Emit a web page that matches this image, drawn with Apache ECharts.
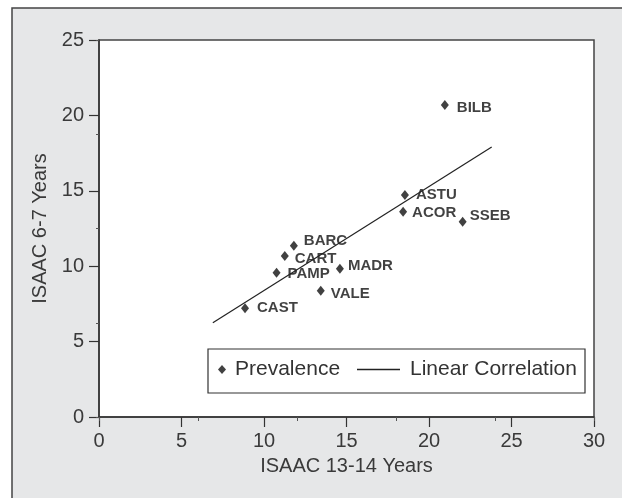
<!DOCTYPE html>
<html>
<head>
<meta charset="utf-8">
<script src="https://cdn.jsdelivr.net/npm/echarts@6/dist/echarts.min.js"></script>
<style>
  html, body { margin: 0; padding: 0; background: #fff; }
  #chart { width: 622px; height: 498px; }
</style>
</head>
<body>
<div id="chart"></div>
<script>
var myChart = echarts.init(document.getElementById('chart'));

// ISAAC prevalence by centre
var centres = ['BILB', 'ASTU', 'ACOR', 'SSEB', 'BARC', 'CART', 'MADR', 'PAMP', 'VALE', 'CAST'];
var isaac1314 = [20.96, 18.54, 18.43, 22.04, 11.81, 11.26, 14.60, 10.76, 13.44, 8.85];
var isaac67 = [20.69, 14.72, 13.61, 12.95, 11.36, 10.68, 9.83, 9.57, 8.38, 7.21];

// fitted line end points
var fitX = [6.9, 23.8];
var fitY = [6.25, 17.9];

var xTicks = [0, 5, 10, 15, 20, 25, 30];
var yTicks = [0, 5, 10, 15, 20, 25];

// small label nudges so the names sit like the original
var labelNudge = {
  BILB: [2, 3], ASTU: [1, 0], ACOR: [-1, 1], SSEB: [-3, -6], BARC: [0, -5],
  CART: [0, 3], MADR: [-2, -3], PAMP: [1, 1], VALE: [0, 3], CAST: [2, 0]
};

var points = centres.map(function (name, i) {
  return {
    name: name,
    value: [isaac1314[i], isaac67[i]],
    label: { offset: labelNudge[name] }
  };
});
var fitLine = fitX.map(function (x, i) { return [x, fitY[i]]; });

var tickFont = {
  fontFamily: 'Liberation Sans',
  fontSize: 20,
  color: '#3a3a3a'
};

var option = {
  backgroundColor: '#fff',
  animation: false,
  graphic: [
    {
      type: 'rect',
      z: -1,
      shape: { x: 12, y: 8, width: 700, height: 600 },
      style: { fill: '#e6e7e8', stroke: '#444', lineWidth: 1.5 }
    },
    {
      type: 'rect',
      z: 3,
      shape: { x: 208, y: 349, width: 377, height: 44 },
      style: { fill: '#fff', stroke: '#333', lineWidth: 1.2 }
    }
  ],
  grid: {
    left: 99,
    top: 40,
    right: 28,
    bottom: 81,
    show: true,
    backgroundColor: '#fff',
    borderColor: '#444',
    borderWidth: 1.5
  },
  legend: [
    {
      z: 4,
      left: 218,
      top: 359,
      padding: 0,
      itemWidth: 8,
      itemHeight: 9,
      data: [{ name: 'Prevalence', icon: 'diamond' }],
      textStyle: { fontFamily: 'Liberation Sans', fontSize: 21, color: '#333', padding: [0, 0, 0, 4] }
    },
    {
      z: 4,
      left: 357,
      top: 359,
      padding: 0,
      itemWidth: 43,
      itemHeight: 1.4,
      data: [{ name: 'Linear Correlation', icon: 'rect' }],
      textStyle: { fontFamily: 'Liberation Sans', fontSize: 21, color: '#333', padding: [0, 0, 0, 5] }
    }
  ],
  xAxis: [
    {
      type: 'value',
      min: xTicks[0],
      max: xTicks[xTicks.length - 1],
      interval: 5,
      name: 'ISAAC 13-14 Years',
      nameLocation: 'middle',
      nameGap: 39,
      nameTextStyle: { fontFamily: 'Liberation Sans', fontSize: 20, color: '#3a3a3a' },
      axisLine: { onZero: false, lineStyle: { color: '#333', width: 1.5 } },
      axisTick: { length: 10, lineStyle: { color: '#333', width: 1.2 } },
      axisLabel: Object.assign({ margin: 14 }, tickFont),
      splitLine: { show: false }
    },
    {
      type: 'value',
      min: 0,
      max: 30,
      interval: 6,
      position: 'bottom',
      axisLine: { show: false },
      axisTick: { length: 4, lineStyle: { color: '#555', width: 1 } },
      axisLabel: { show: false },
      splitLine: { show: false }
    }
  ],
  yAxis: [
    {
      type: 'value',
      min: yTicks[0],
      max: yTicks[yTicks.length - 1],
      interval: 5,
      name: 'ISAAC 6-7 Years',
      nameLocation: 'middle',
      nameGap: 44,
      nameTextStyle: { fontFamily: 'Liberation Sans', fontSize: 20, color: '#3a3a3a' },
      axisLine: { onZero: false, lineStyle: { color: '#333', width: 1.5 } },
      axisTick: { length: 10, lineStyle: { color: '#333', width: 1.2 } },
      axisLabel: Object.assign({ margin: 15 }, tickFont),
      splitLine: { show: false }
    },
    {
      type: 'value',
      min: 0,
      max: 25,
      interval: 6.25,
      position: 'left',
      axisLine: { show: false },
      axisTick: { length: 3, lineStyle: { color: '#555', width: 1 } },
      axisLabel: { show: false },
      splitLine: { show: false }
    }
  ],
  series: [
    {
      name: 'Prevalence',
      type: 'scatter',
      symbol: 'diamond',
      symbolSize: [8, 10],
      itemStyle: { color: '#111' },
      label: {
        show: true,
        position: 'right',
        distance: 6,
        formatter: '{b}',
        fontFamily: 'Liberation Sans',
        fontWeight: 'bold',
        fontSize: 15,
        color: '#111'
      },
      data: points
    },
    {
      name: 'Linear Correlation',
      type: 'line',
      symbol: 'none',
      lineStyle: { color: '#222', width: 1.2 },
      itemStyle: { color: '#222' },
      data: fitLine
    }
  ]
};

myChart.setOption(option);
</script>
</body>
</html>
